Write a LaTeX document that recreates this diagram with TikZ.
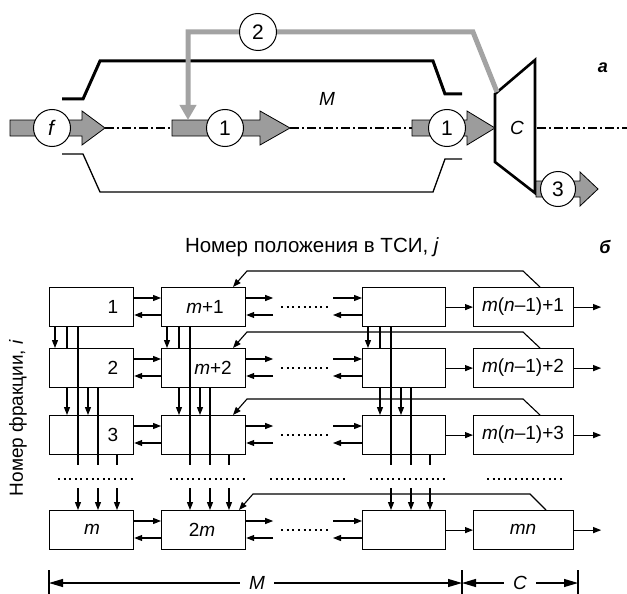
\documentclass[tikz,border=0pt]{standalone}
\usepackage{fontspec}
\setmainfont{Liberation Sans}
\usetikzlibrary{arrows.meta,calc}
\definecolor{arrgray}{HTML}{9C9C9C}
\definecolor{lingray}{HTML}{A3A3A3}
\newcommand{\blockarr}[4]{%
  \filldraw[fill=arrgray, draw=black, line width=0.8pt]
    (#1,#4-8) -- (#2,#4-8) -- (#2,#4-17) -- (#3,#4) -- (#2,#4+17) -- (#2,#4+8) -- (#1,#4+8) -- cycle;}
\tikzset{
  box/.style={draw, line width=1.2pt, minimum width=84pt, minimum height=39pt, inner sep=0pt, anchor=north west},
  lbl/.style={font=\fontsize{19}{21}\selectfont, inner sep=0pt},
  circ/.style={circle, draw, fill=white, line width=1pt, minimum size=37pt, inner sep=0pt, font=\fontsize{21}{22}\selectfont},
  con/.style={line width=1.1pt, -{Triangle[length=8pt,width=6pt]}},
  plain/.style={line width=1.1pt},
  dots/.style={line width=2pt, dash pattern=on 2pt off 3.6pt},
  dashdot/.style={line width=1.3pt, dash pattern=on 9pt off 3pt on 2pt off 3pt},
  dim/.style={line width=1.1pt, -{Triangle[length=14pt,width=8pt]}},
}
\begin{document}
\begin{tikzpicture}[x=1pt,y=-1pt]
\useasboundingbox (0,0) rectangle (627,594);

% ---------- part a ----------
% casing
\draw[line width=3pt] (62,99) -- (83,99) -- (100,61) -- (433,61) -- (445,94) -- (462,94);
\draw[line width=1.3pt] (62,154) -- (83,154) -- (100,192) -- (433,192) -- (445,159) -- (462,159);
\node[lbl] (lM) at (327,99) {\textit{M}};

% trapezoid C
\draw[line width=2.6pt, fill=white] (495,94) -- (535,60) -- (535,193) -- (495,162) -- cycle;
\node[lbl] (lC) at (517,128) {\textit{C}};
\node[lbl, font=\fontsize{18}{20}\selectfont\bfseries\itshape] (la) at (603,68) {a};

% block arrows
\blockarr{10}{82}{105}{128}
\blockarr{172}{260}{290}{128}
\blockarr{412}{467}{495}{128}
\blockarr{536}{580}{598}{189}
\coordinate (fTip) at (105,128);
\coordinate (aStart) at (172,128);
\coordinate (aTip) at (290,128);
\coordinate (bStart) at (412,128);
\coordinate (cRight) at (537,128);
\coordinate (edge) at (627,128);
\draw[dashdot] (fTip) -- (aStart);
\draw[dashdot] (aTip) -- (bStart);
\draw[dashdot] (cRight) -- (edge);

% gray recycle line
\coordinate (gA) at (497,92);
\coordinate (gB) at (473,32);
\coordinate (gC) at (188,32);
\coordinate (gD) at (188,120);
\draw[color=lingray, line width=5pt, line join=miter, -{Triangle[length=15pt,width=16pt]}] (gA) -- (gB) -- (gC) -- (gD);

\node[circ] (cf) at (52,128) {\textit{f}};
\node[circ] (c1a) at (225,128) {1};
\node[circ] (c1b) at (447,128) {1};
\node[circ] (c2) at (258,32) {2};
\node[circ, minimum size=35pt] (c3) at (558,189) {3};

% ---------- part b ----------
\node[lbl, font=\fontsize{20.5}{22}\selectfont] (title) at (312,247) {Номер положения в ТСИ, \textit{j}};
\node[lbl, font=\fontsize{18}{20}\selectfont\bfseries\itshape] (lb) at (605,247) {б};
\node[lbl, rotate=90] (ylab) at (18,418) {Номер фракции, \textit{i}};

\foreach \r/\yy in {1/287,2/348,3/415,4/510} {
  \node[box] (b\r1) at (49,\yy) {};
  \node[box] (b\r2) at (161,\yy) {};
  \node[box, minimum width=83pt] (b\r4) at (362,\yy) {};
  \node[box, minimum width=100pt] (b\r5) at (473,\yy) {};
}

\node[lbl] (t11) at (113,306.5) {1};
\node[lbl] (t21) at (113,367.5) {2};
\node[lbl] (t31) at (113,434.5) {3};
\node[lbl] (t41) at (92,529.5) {\textit{m}};
\node[lbl] (t12) at (205,306.5) {\textit{m}+1};
\node[lbl] (t22) at (213,367.5) {\textit{m}+2};
\node[lbl] (t42) at (202,529.5) {2\textit{m}};
\node[lbl] (t15) at (523,306.5) {\textit{m}(\textit{n}–1)+1};
\node[lbl] (t25) at (523,367.5) {\textit{m}(\textit{n}–1)+2};
\node[lbl] (t35) at (523,434.5) {\textit{m}(\textit{n}–1)+3};
\node[lbl] (t45) at (523,529.5) {\textit{mn}};

% horizontal connections
\foreach \r in {1,2,3,4} {
  \draw[con] ($(b\r1.north east)+(0,11)$) -- ($(b\r2.north west)+(0,11)$);
  \draw[con] ($(b\r2.north west)+(0,28)$) -- ($(b\r1.north east)+(0,28)$);
  \draw[con] ($(b\r2.north east)+(0,11)$) -- ($(b\r2.north east)+(27,11)$);
  \draw[con] ($(b\r2.north east)+(27,28)$) -- ($(b\r2.north east)+(0,28)$);
  \draw[dots] ($(b\r2.east)+(35,0)$) -- ($(b\r4.west)+(-31,0)$);
  \draw[con] ($(b\r4.north west)+(-29,11)$) -- ($(b\r4.north west)+(0,11)$);
  \draw[con] ($(b\r4.north west)+(0,28)$) -- ($(b\r4.north west)+(-29,28)$);
  \draw[con] (b\r4.east) -- (b\r5.west);
  \draw[con] (b\r5.east) -- ($(b\r5.east)+(27,0)$);
}

% vertical connections
\foreach \c in {1,2,4} {
  \draw[con] ($(b1\c.south west)+(6,0)$) -- ($(b2\c.north west)+(6,0)$);
  \draw[plain] ($(b1\c.south west)+(18,0)$) -- ($(b2\c.north west)+(18,0)$);
  \draw[con] ($(b2\c.south west)+(18,0)$) -- ($(b3\c.north west)+(18,0)$);
  \draw[plain] ($(b1\c.south west)+(29,0)$) -- ($(b3\c.south west)+(29,10)$);
  \draw[con] ($(b2\c.south west)+(39,0)$) -- ($(b3\c.north west)+(39,0)$);
  \draw[plain] ($(b2\c.south west)+(49,0)$) -- ($(b3\c.south west)+(49,10)$);
  \draw[plain] ($(b3\c.south west)+(68,0)$) -- ($(b3\c.south west)+(68,10)$);
  \foreach \dx in {29,49,68}
    \draw[con] ($(b4\c.north west)+(\dx,-22)$) -- ($(b4\c.north west)+(\dx,0)$);
}

% dotted row
\draw[dots] (58,479) -- (133,479);
\draw[dots] (170,479) -- (245,479);
\draw[dots] (270,479) -- (345,479);
\draw[dots] (370,479) -- (445,479);
\draw[dots] (487,479) -- (563,479);

% feedback lines
\foreach \r in {1,2,3} {
  \draw[con] ($(b\r5.north west)+(67,0)$) -- ++(-17,-16) -- ($(b\r2.north west)+(86,-16)$) -- ($(b\r2.north west)+(72,0)$);
}
\draw[con] ($(b45.north west)+(73,0)$) -- ++(-16,-16) -- ($(b42.north west)+(92,-16)$) -- ($(b42.north west)+(78,0)$);

% dimension line
\coordinate (dL) at (49,583);
\coordinate (dM) at (462,583);
\coordinate (dR) at (578,583);
\draw[line width=1.1pt] (49,570) -- (49,594);
\draw[line width=1.1pt] (462,570) -- (462,594);
\draw[line width=1.1pt] (578,570) -- (578,594);
\node[lbl, inner xsep=9pt] (dimM) at (257,583) {\textit{M}};
\node[lbl, inner xsep=9pt] (dimC) at (520,583) {\textit{C}};
\draw[dim] (dimM) -- (dL);
\draw[dim] (dimM) -- (dM);
\draw[dim] (dimC) -- (dM);
\draw[dim] (dimC) -- (dR);
\end{tikzpicture}
\end{document}
